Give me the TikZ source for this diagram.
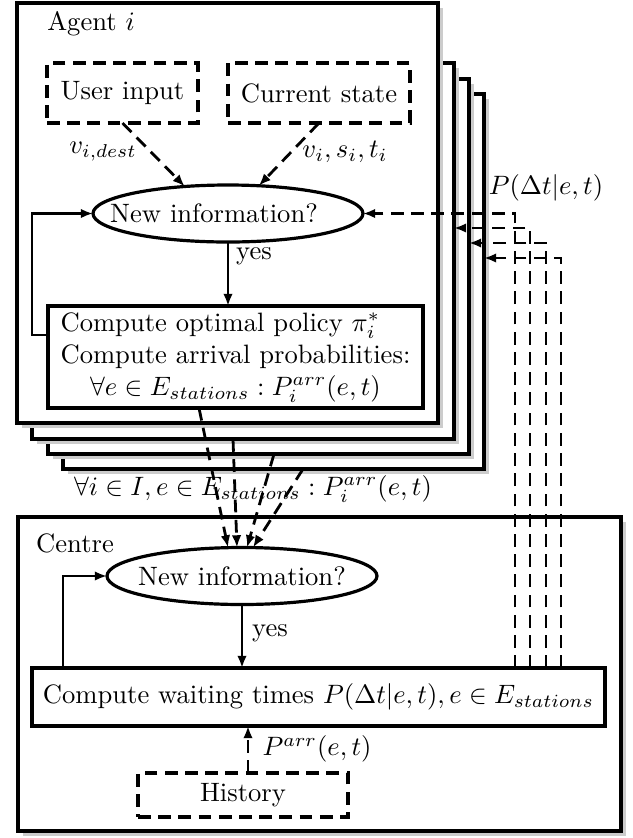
\documentclass[tikz,border=0pt]{standalone}
\usetikzlibrary{arrows.meta,shapes.geometric,shadows,calc}
\def\pxu{0.376pt}
\begin{document}
\begin{tikzpicture}[x=\pxu,y=-\pxu,
  sz/.style 2 args={minimum width=#1*\pxu, minimum height=#2*\pxu},
  box/.style={draw, line width=1.2pt, inner sep=0pt, outer sep=0pt},
  wbox/.style={box, fill=white},
  shadowed/.style={drop shadow={shadow xshift=5*\pxu, shadow yshift=-5*\pxu, fill=black!20, opacity=1}},
  dbox/.style={draw, dash pattern=on 4.8pt off 2.8pt, line width=1.2pt, inner sep=0pt, outer sep=0pt},
  ell/.style={ellipse, draw, line width=1.2pt, inner sep=0pt, outer sep=0pt, sz={270}{57}},
  conn/.style={line width=1.05pt, -{Latex[length=4.6pt,width=3.6pt]}},
  dconn/.style={conn, dash pattern=on 4.8pt off 2.8pt},
  lbl/.style={inner sep=0pt}]
\useasboundingbox (0,0) rectangle (633,838);
% agent stack
\node[wbox, shadowed, sz={421}{375}] (A4) at (273.5,281.5) {};
\node[wbox, shadowed, sz={421}{375}] (A3) at (258.5,266.5) {};
\node[wbox, shadowed, sz={422}{376}] (A2) at (243,251) {};
\node[wbox, shadowed, sz={421}{420}] (A1) at (227.5,213) {};
\node[lbl] (lblA) at (91,24) {Agent $i$};
\node[dbox, sz={151}{60}] (UI) at (122.5,93) {User input};
\node[dbox, sz={182}{60}] (CS) at (319,93) {Current state};
\node[ell] (E1) at (228,213.5) {\makebox[0pt]{New information?\hspace{10.5pt}}};
\node[box, sz={375}{102}] (P1) at (235.5,357) {\begin{tabular}{@{}l@{}}Compute optimal policy $\pi_i^*$\\ Compute arrival probabilities:\\ \multicolumn{1}{@{}c@{}}{$\forall e\in E_{stations}: P_i^{arr}(e,t)$}\end{tabular}};
\draw[dconn] (UI.south) -- (E1.148);
\draw[dconn] (CS.south) -- (E1.42);
\node[lbl] (lv1) at (103,152) {$v_{i,dest}$};
\node[lbl] (lv2) at (345,152) {$v_i, s_i, t_i$};
\draw[conn] (E1.south) -- (E1.south |- P1.north);
\node[lbl] (yes1) at (254,256) {yes};
\draw[conn] ($(P1.west)+(0,-22)$) -- ++(-16,0) |- (E1.west);
% centre
\node[wbox, shadowed, sz={603}{314}] (C) at (319.5,674) {};
\node[lbl] (lblC) at (75,543) {Centre};
\node[ell] (E2) at (242,576) {\makebox[0pt]{New information?}};
\node[box, sz={573}{58}] (W) at (318.5,697) {Compute waiting times $P(\Delta t|e,t), e\in E_{stations}$\hspace{6pt}};
\node[dbox, sz={210}{44}] (H) at (243,795) {History\hspace{3.4pt}};
\draw[conn] ($(W.north west)+(31,0)$) |- (E2.west);
\draw[conn] (E2.south) -- (E2.south |- W.north);
\node[lbl] (yes2) at (270,633) {yes};
\coordinate (h1) at ($(H.north)+(5,0)$);
\draw[dconn] (h1) -- (h1 |- W.south);
\node[lbl, anchor=west] (lparr) at (262,749) {$P^{arr}(e,t)$};
% agent -> centre
\draw[dconn] ($(P1.south)+(-36.5,0)$) -- ($(E2.north)+(-14,0)$);
\draw[dconn] ($(A2.south)+(-10,0)$) -- ($(E2.north)+(-5,0)$);
\draw[dconn] ($(A3.south)+(15.5,0)$) -- ($(E2.north)+(5,0)$);
\draw[dconn] ($(A4.south)+(29.5,0)$) -- ($(E2.north)+(11,0)$);
\node[lbl] (lall) at (253,489) {$\forall i\in I, e\in E_{stations}: P_i^{arr}(e,t)$};
% centre -> agents
\draw[dconn] ($(W.north west)+(483,0)$) |- (E1.east);
\draw[dconn] ($(W.north west)+(498,0)$) |- ($(A2.north east)+(0,165)$);
\draw[dconn] ($(W.north west)+(514,0)$) |- ($(A3.north east)+(0,164)$);
\draw[dconn] ($(W.north west)+(529,0)$) |- ($(A4.north east)+(0,164)$);
\node[lbl] (lpdt) at (546,188) {$P(\Delta t|e,t)$};
\end{tikzpicture}
\end{document}
